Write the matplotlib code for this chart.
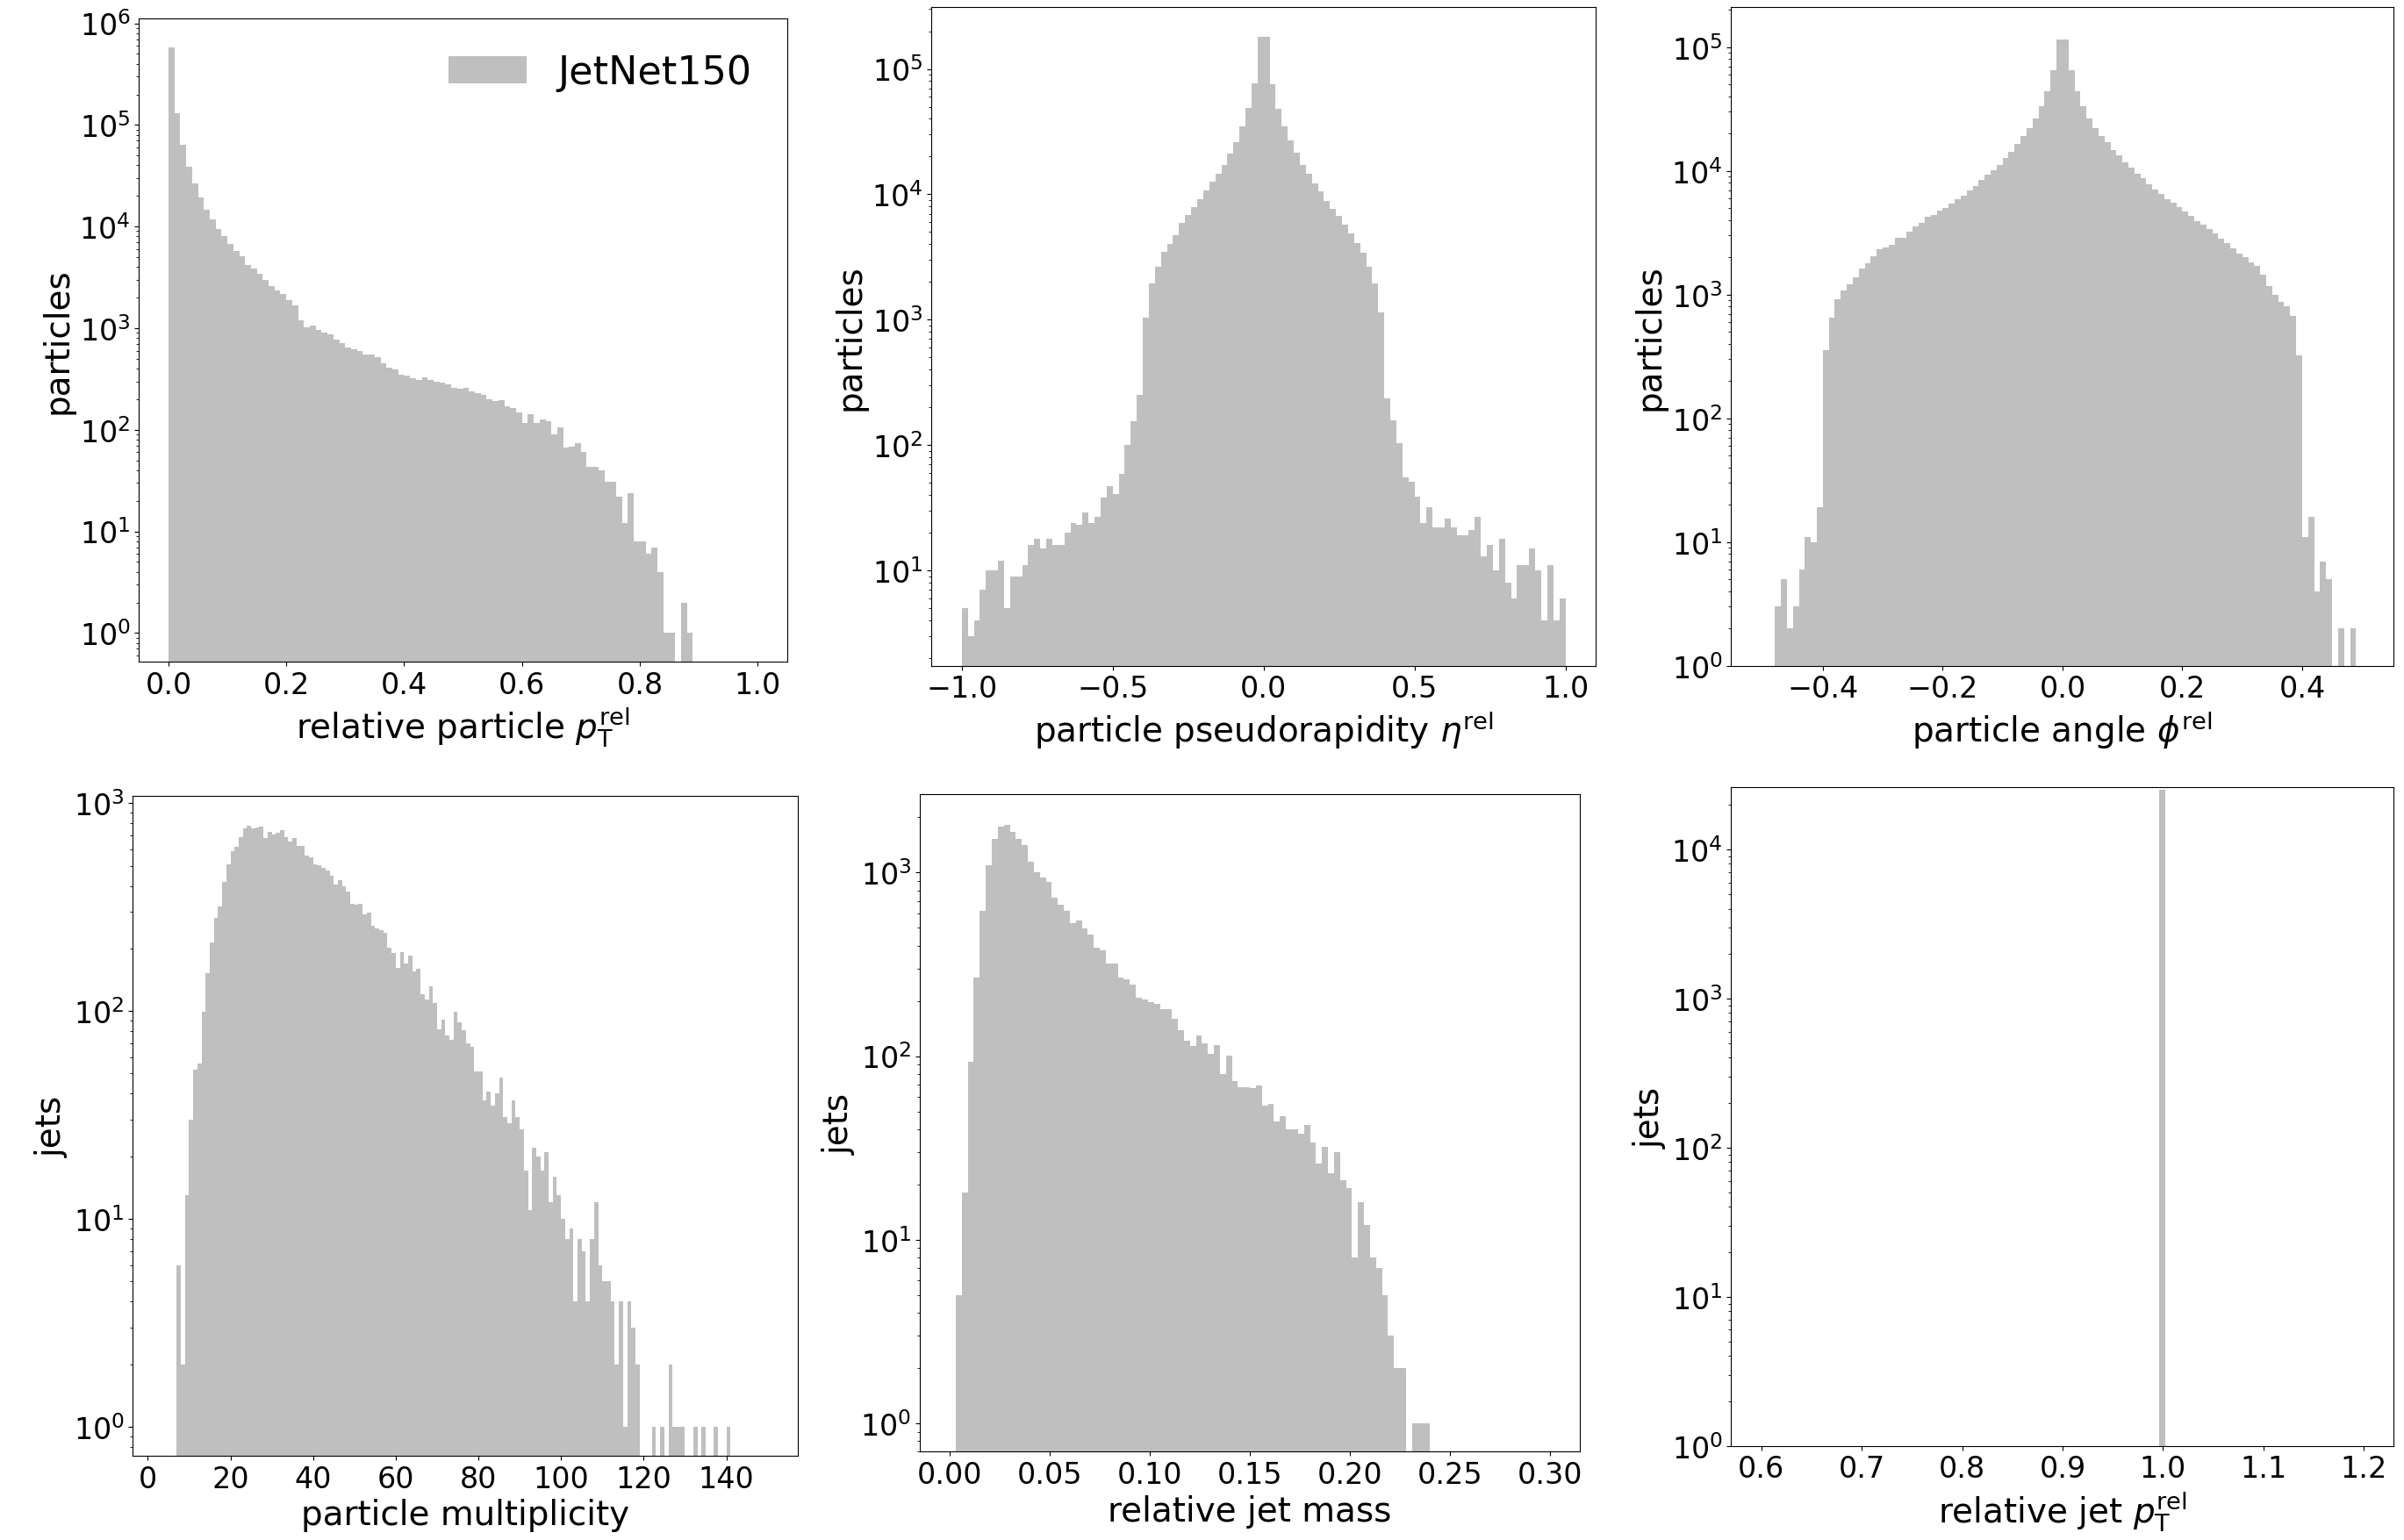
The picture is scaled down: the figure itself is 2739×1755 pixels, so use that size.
import numpy as np
import matplotlib
matplotlib.use("Agg")
import matplotlib.pyplot as plt
from matplotlib.ticker import MultipleLocator

# bin edges of the six histograms
ptrel_bins = np.linspace(0.0, 1.0, 101)
etarel_bins = np.linspace(-1.0, 1.0, 101)
phirel_bins = np.linspace(-0.5, 0.5, 101)
mult_bins = np.arange(4, 151)
mass_bins = np.linspace(0.0, 0.3, 101)
jetpt_bins = np.linspace(0.6, 1.2, 101)

# counts per bin
ptrel_counts = [
    580000, 131000, 64000, 39000, 26700, 19200, 14700, 11700, 9400, 8000,
    6800, 5750, 5100, 4200, 3850, 3400, 3000, 2600, 2340, 2170,
    1900, 1680, 1200, 1030, 1070, 955, 905, 865, 767, 718,
    650, 621, 600, 551, 551, 516, 450, 410, 390, 350,
    340, 320, 310, 330, 310, 295, 290, 280, 260, 255,
    260, 240, 230, 220, 200, 191, 195, 169, 164, 149,
    116, 143, 116, 127, 122, 91, 105, 67, 68, 74,
    61, 43, 43, 40, 31, 31, 22, 12, 24, 8,
    8, 6, 7, 4, 1, 1, 0, 2, 1, 0,
    0, 0, 0, 0, 0, 0, 0, 0, 0, 0]

etarel_counts = [
    5, 3, 4, 7, 10, 10, 12, 5, 9, 9,
    11, 16, 18, 15, 18, 16, 16, 20, 24, 23,
    29, 24, 27, 38, 47, 41, 59, 100, 155, 253,
    1040, 1940, 2650, 3480, 4050, 4760, 5900, 6800, 7900, 9200,
    10800, 12600, 14500, 17000, 21000, 26000, 35000, 49000, 77000, 180000,
    180000, 76000, 48000, 35000, 27000, 21500, 17000, 14500, 12300, 10600,
    8900, 7600, 6700, 5700, 4900, 4100, 3400, 2650, 1960, 1140,
    236, 157, 103, 55, 51, 39, 24, 32, 22, 22,
    26, 22, 19, 19, 21, 27, 13, 16, 10, 18,
    8, 6, 11, 11, 15, 10, 4, 11, 4, 6]

phirel_counts = [
    0, 0, 3, 5, 2, 3, 6, 11, 10, 19,
    355, 650, 920, 1080, 1220, 1380, 1620, 1800, 2040, 2340,
    2420, 2520, 2900, 2900, 3250, 3560, 3800, 4250, 4420, 4760,
    5050, 5430, 5870, 6350, 7000, 7600, 8400, 9300, 10200, 11200,
    12700, 14200, 16600, 19000, 22000, 26500, 33500, 44000, 65000, 116000,
    116000, 65000, 44000, 33500, 26500, 22000, 19000, 17000, 14800, 13300,
    11800, 10600, 9500, 8700, 7800, 7100, 6500, 5870, 5500, 5100,
    4700, 4300, 3900, 3700, 3400, 3100, 2850, 2600, 2360, 2130,
    2000, 1820, 1700, 1450, 1170, 1000, 870, 800, 670, 325,
    11, 16, 4, 7, 5, 0, 2, 0, 2, 0]

mult_counts = [
    0, 0, 0, 6, 2, 13, 30, 52, 56, 99,
    152, 214, 282, 319, 417, 506, 587, 617, 687, 760,
    776, 760, 764, 771, 683, 726, 708, 718, 745, 687,
    653, 683, 624, 624, 557, 549, 506, 501, 489, 474,
    448, 405, 428, 398, 375, 328, 325, 328, 292, 297,
    257, 251, 245, 237, 202, 190, 162, 193, 170, 184,
    155, 160, 121, 114, 131, 109, 82, 91, 76, 73,
    99, 88, 81, 70, 67, 51, 51, 37, 41, 35,
    40, 48, 31, 29, 37, 31, 27, 17, 11, 22,
    20, 17, 21, 12, 16, 13, 10, 8, 9, 4,
    8, 7, 4, 8, 12, 6, 5, 5, 4, 2,
    4, 1, 4, 3, 2, 0, 0, 0, 1, 0,
    1, 0, 2, 1, 1, 1, 0, 0, 1, 0,
    1, 0, 0, 1, 0, 0, 1, 0, 0, 0,
    0, 0, 0, 0, 0, 0]

mass_counts = [
    0, 5, 18, 93, 267, 621, 1093, 1520, 1783, 1824,
    1675, 1529, 1410, 1143, 1002, 941, 889, 728, 668, 617,
    532, 547, 494, 459, 391, 376, 319, 320, 268, 262,
    245, 209, 203, 196, 193, 180, 180, 160, 138, 121,
    113, 129, 118, 103, 115, 80, 101, 73, 68, 68,
    67, 69, 54, 55, 44, 47, 40, 40, 38, 42,
    34, 26, 32, 23, 30, 21, 19, 8, 16, 12,
    8, 7, 5, 3, 2, 2, 0, 1, 1, 1,
    0, 0, 0, 0, 0, 0, 0, 0, 0, 0,
    0, 0, 0, 0, 0, 0, 0, 0, 0, 0]

jetpt_counts = [0] * 100
jetpt_counts[66] = 25000

xlabels = [r'relative particle $p_\mathrm{T}^\mathrm{rel}$',
           r'particle pseudorapidity $\eta^\mathrm{rel}$',
           r'particle angle $\phi^\mathrm{rel}$',
           'particle multiplicity',
           'relative jet mass',
           r'relative jet $p_\mathrm{T}^\mathrm{rel}$']
ylabels = ['particles', 'particles', 'particles', 'jets', 'jets', 'jets']

panels = [
    (ptrel_bins, ptrel_counts, (0.525, 1.12e6), None),
    (etarel_bins, etarel_counts, (1.74, 3.1e5), None),
    (phirel_bins, phirel_counts, (1.0, 2.1e5), (-0.553, 0.553)),
    (mult_bins, mult_counts, (0.726, 1085), (-3.6, 157.2)),
    (mass_bins, mass_counts, (0.70, 2666), None),
    (jetpt_bins, jetpt_counts, (1.0, 2.6e4), None),
]

# axes boxes in pixels: left, right, top, bottom
W, H = 2739, 1756
boxes = [
    (158.4, 896.7, 21.9, 754.8),
    (1061.4, 1817.9, 9.3, 759.7),
    (1972.4, 2727.4, 9.3, 759.7),
    (151.4, 908.5, 907.9, 1659.9),
    (1047.9, 1800.3, 906.3, 1655.4),
    (1972.4, 2727.4, 898.4, 1648.7),
]

fig = plt.figure(figsize=(W / 100, H / 100), dpi=100)
color = '#bfbfbf'

for i, (bins, counts, ylim, xlim) in enumerate(panels):
    l, r, t, b = boxes[i]
    ax = fig.add_axes([l / W, 1 - b / H, (r - l) / W, (b - t) / H])
    bins = np.asarray(bins, dtype=float)
    ax.hist(bins[:-1], bins=bins, weights=counts, color=color, log=True,
            label='JetNet150')
    ax.set_ylim(*ylim)
    if xlim is not None:
        ax.set_xlim(*xlim)
    if i == 3:
        ax.xaxis.set_major_locator(MultipleLocator(20))
    ax.set_xlabel(xlabels[i], fontsize=28)
    ax.set_ylabel(ylabels[i], fontsize=28)
    ax.tick_params(axis='both', which='major', labelsize=24)
    if i == 0:
        ax.legend(loc='upper right', frameon=False, fontsize=32)

fig.savefig('out.png', dpi=100)
